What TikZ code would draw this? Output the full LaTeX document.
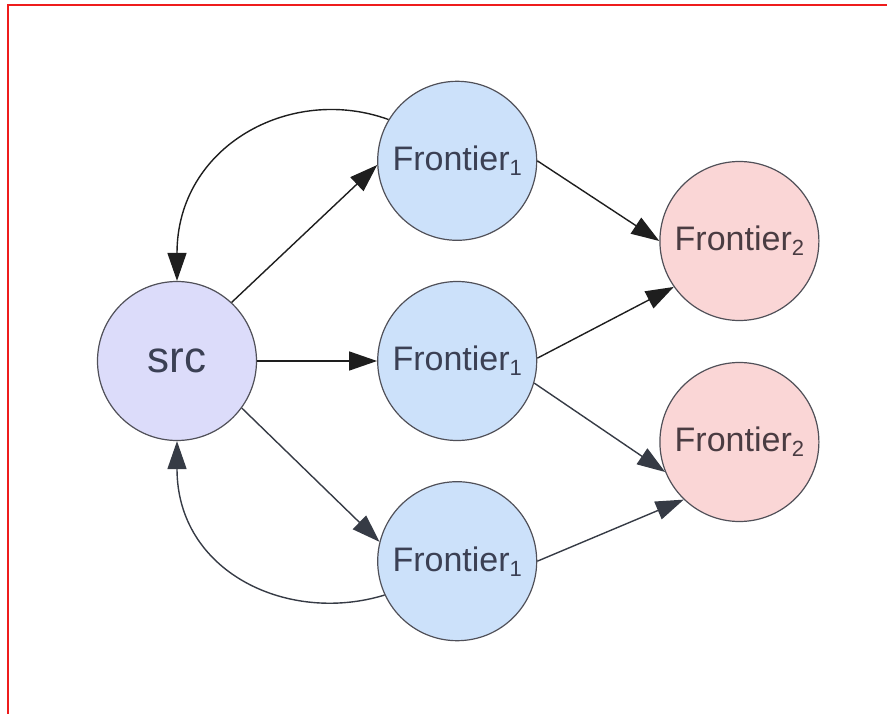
\documentclass[tikz,border=0pt]{standalone}
\usepackage{fontspec}
\setmainfont{Liberation Sans}
\usetikzlibrary{positioning, arrows.meta}
\definecolor{cSRC}{HTML}{DCDCFA}
\definecolor{cFRONT1}{HTML}{CCE1FA}
\definecolor{cFRONT2}{HTML}{FAD6D6}
\definecolor{cRIM}{HTML}{505058}
\definecolor{cLABEL}{HTML}{3B4054}
\definecolor{cLABEL2}{HTML}{4A3C42}
\definecolor{cLINE}{HTML}{1E1E1E}
\definecolor{cLINELO}{HTML}{363B45}
\definecolor{cFRAME}{HTML}{EE1C1C}
\tikzset{
  state/.style={
    circle, draw=cRIM, line width=1.2pt,
    fill=#1,
    minimum size=159pt,
    inner sep=0pt,
    text=cLABEL,
    font=\fontsize{34}{36}\selectfont
  },
  link/.style={
    -{Triangle[length=28pt,width=19pt]},
    line width=1.4pt,
    draw=#1
  },
  link/.default=cLINE
}
\newcommand{\frontier}[1]{%
  Frontier{\fontsize{22}{22}\selectfont\raisebox{-5pt}{#1}}%
}

\begin{document}
\begin{tikzpicture}[x=1pt, y=1pt, node distance=40pt and 120pt]
  \useasboundingbox (0,0) rectangle (887,-714);
  \draw[cFRAME, line width=2pt] (8,-714) -- (8,-5) -- (887,-5);

  \node[state=cSRC, font=\fontsize{44}{46}\selectfont] (src) at (177,-361) {src};
  \node[state=cFRONT1, right=of src] (f1mid) {\frontier{1}};
  \node[state=cFRONT1, above=of f1mid] (f1top) {\frontier{1}};
  \node[state=cFRONT1, below=of f1mid] (f1bot) {\frontier{1}};
  \node[state=cFRONT2, text=cLABEL2, right=122pt of f1mid, yshift=120pt] (f2top) {\frontier{2}};
  \node[state=cFRONT2, text=cLABEL2, right=122pt of f1mid, yshift=-81pt] (f2bot) {\frontier{2}};

  \draw[link] (src.47) -- (f1top.183);
  \draw[link] (src.east) -- (f1mid.west);
  \draw[link=cLINELO] (src.-36) -- (f1bot.166);
  \draw[link] (f1top.149) to[out=160, in=90, out looseness=1, in looseness=1.3] (src.90);
  \draw[link=cLINELO] (f1bot.-155) to[out=-163, in=-90, out looseness=1, in looseness=1.3] (src.-90);

  \draw[link] (f1top.east) -- (f2top.west);
  \draw[link] (f1mid.2) -- (f2top.215);
  \draw[link=cLINELO] (f1mid.-16) -- (f2bot.202);
  \draw[link=cLINELO] (f1bot.east) -- (f2bot.226);
\end{tikzpicture}
\end{document}
